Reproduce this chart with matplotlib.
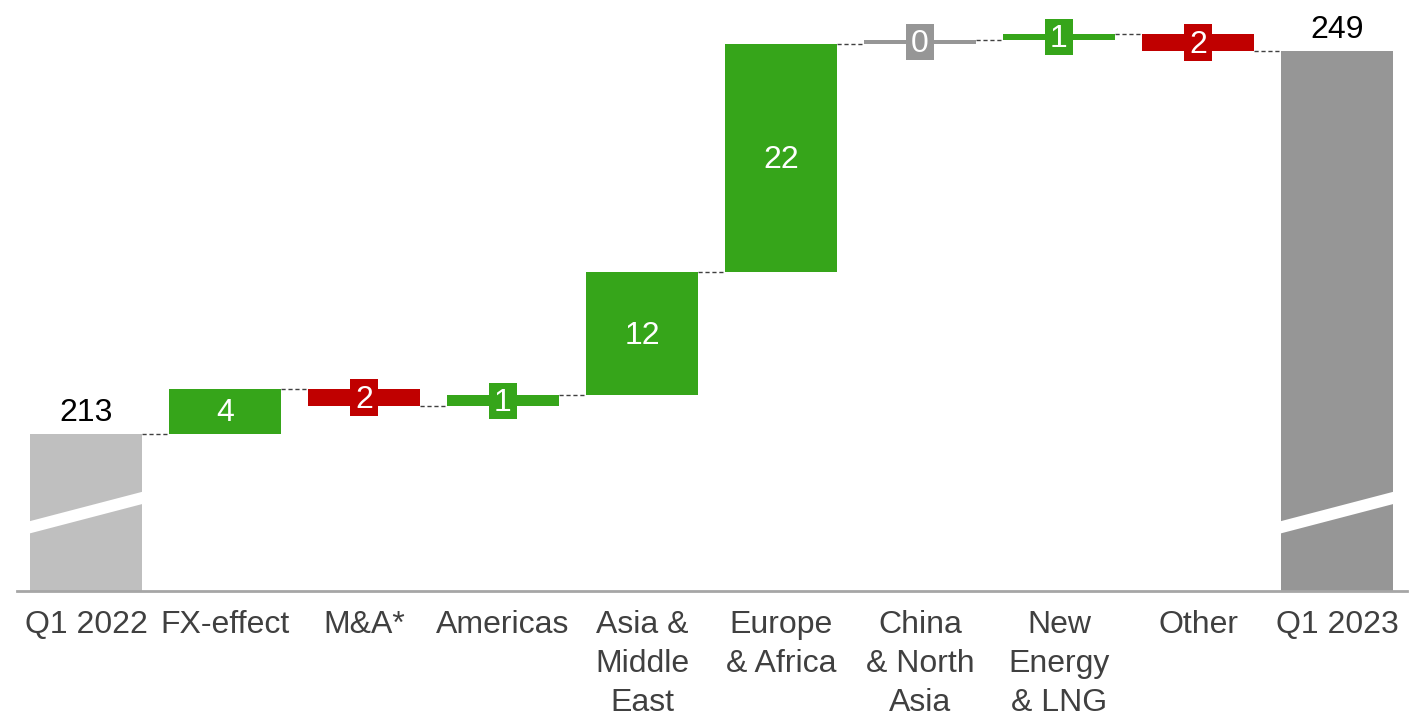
import numpy as np
import matplotlib
matplotlib.use("Agg")
import matplotlib.pyplot as plt
from matplotlib.patches import Polygon, Rectangle

plt.rcParams['font.family'] = ['Liberation Sans', 'DejaVu Sans']

# data
categories = ["Q1 2022", "FX-effect", "M&A*", "Americas", "Asia &\nMiddle\nEast",
              "Europe\n& Africa", "China\n& North\nAsia", "New\nEnergy\n& LNG", "Other", "Q1 2023"]
start_value = 213.0
deltas = [4.2, -1.6, 1.0, 11.6, 21.5, 0.3, 0.6, -1.6]
end_value = start_value + sum(deltas)

GREEN = "#36a51a"
RED = "#c00000"
GREY_ZERO = "#969696"
START_C = "#bfbfbf"
END_C = "#969696"

ymin, ymax = 198.2, 253.8
bw = 0.8

fig = plt.figure(figsize=(14.1, 7.21), dpi=100)
ax = fig.add_axes([16.5 / 1410, 130 / 721, 1390 / 1410, 591 / 721])
ax.set_xlim(-0.5, 9.5)
ax.set_ylim(ymin, ymax)

x = np.arange(len(categories))

# start / end bars
ax.bar(x[0], start_value - ymin, bottom=ymin, width=bw, color=START_C, zorder=2)
ax.bar(x[-1], end_value - ymin, bottom=ymin, width=bw, color=END_C, zorder=2)

# break bands
for xi in (x[0], x[-1]):
    xl, xr = xi - bw / 2 - 0.01, xi + bw / 2 + 0.01
    lo_l, lo_r = 204.75, 207.55
    th = 1.15
    band = Polygon([(xl, lo_l), (xr, lo_r), (xr, lo_r - th), (xl, lo_l - th)],
                   closed=True, facecolor="white", edgecolor="none", zorder=3)
    ax.add_patch(band)

ax.annotate(f"{start_value:.0f}", (x[0], start_value), xytext=(0, 4), textcoords="offset points",
            ha="center", va="bottom", fontsize=23, color="black")
ax.annotate(f"{end_value:.0f}", (x[-1], end_value), xytext=(0, 4), textcoords="offset points",
            ha="center", va="bottom", fontsize=23, color="black")

# floating bars
running = start_value
levels = [start_value]
for i, d in enumerate(deltas):
    xi = x[i + 1]
    if abs(d) < 0.45:
        c = GREY_ZERO
    elif d > 0:
        c = GREEN
    else:
        c = RED
    lo = min(running, running + d)
    ax.bar(xi, abs(d), bottom=lo, width=bw, color=c, zorder=2)
    mid = lo + abs(d) / 2
    if abs(d) < 3:
        bh = 3.4
        ax.add_patch(Rectangle((xi - 0.1, mid - bh / 2), 0.2, bh, facecolor=c,
                               edgecolor="none", zorder=3))
    ax.text(xi, mid - 0.2, f"{abs(d):.0f}", ha="center", va="center", fontsize=23,
            color="white", zorder=4)
    running += d
    levels.append(running)

# connectors
for i in range(len(levels)):
    ax.plot([x[i] + bw / 2, x[i + 1] - bw / 2], [levels[i], levels[i]],
            color="#404040", lw=1, ls=(0, (3, 2)), zorder=1)

for s in ["top", "right", "left"]:
    ax.spines[s].set_visible(False)
ax.spines["bottom"].set_color("#a6a6a6")
ax.spines["bottom"].set_linewidth(2)
ax.set_yticks([])
ax.set_xticks(x)
ax.set_xticklabels(categories, fontsize=23, color="#404040", linespacing=1.38)
ax.tick_params(axis="x", length=0, pad=14)

fig.savefig("out.png", dpi=100)
